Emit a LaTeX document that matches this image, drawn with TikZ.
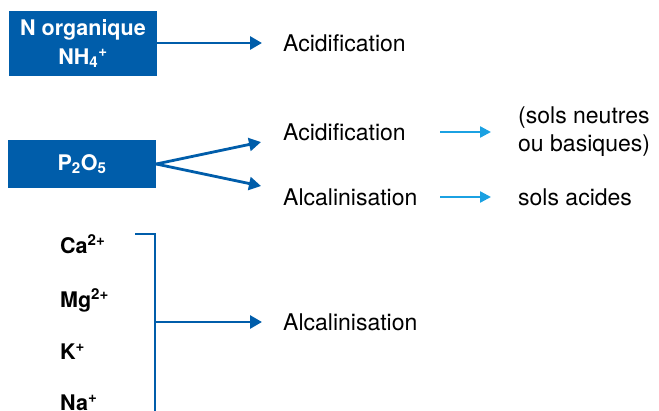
\documentclass[tikz,border=0pt]{standalone}
\usepackage{fontspec}
\setmainfont{TeX Gyre Heros}
\usetikzlibrary{arrows.meta,positioning}

\definecolor{bleufonce}{HTML}{005DAA}
\definecolor{bleuclair}{HTML}{1BA1E2}

\newcommand\grand{\fontsize{23}{28}\selectfont}
\newcommand\gras{\fontsize{21.5}{29}\selectfont\bfseries}

\tikzset{
  boite/.style={fill=bleufonce, text=white, font=\gras, minimum width=148pt, align=center, inner sep=0pt},
  fleche/.style={bleufonce, line width=2.8pt, -{Triangle[length=12pt,width=13pt]}},
  flecheclaire/.style={bleuclair, line width=2.4pt, -{Triangle[length=11pt,width=11pt]}},
  texte/.style={anchor=west, inner sep=0pt, font=\grand, text height=16pt, text depth=0pt},
  ion/.style={anchor=base west, inner sep=0pt, font=\gras}
}

\begin{document}
\begin{tikzpicture}[x=1pt,y=-1pt]
  \useasboundingbox (0,0) rectangle (659,410);

  % les boites
  \node[boite, minimum height=65pt] (norg) at (83,43.5) {N organique\\NH\textsubscript{4}\textsuperscript{+}};
  \node[boite, minimum height=48pt] (pdeux) at (82,164) {P\textsubscript{2}O\textsubscript{5}};

  % les textes
  \node[texte] (acid1) at (283,43) {Acidification};
  \node[texte] (acid2) at (283,132) {Acidification};
  \node[texte] (alca2) at (283,197) {Alcalinisation};
  \node[texte] (alca3) at (283,322) {Alcalinisation};
  \node[anchor=west, inner sep=0pt, align=left, font=\grand] (neutres) at (518,132) {(sols neutres\\ou basiques)};
  \node[texte] (acides) at (518,197) {sols acides};

  % les ions
  \node[ion] (ca) at (60,253) {Ca\textsuperscript{2+}};
  \node[ion] (mg) at (60,307) {Mg\textsuperscript{2+}};
  \node[ion] (k) at (60,359) {K\textsuperscript{+}};
  \node[ion] (na) at (60,410) {Na\textsuperscript{+}};

  % bouts libres des fleches
  \coordinate (fin1) at (262,43);
  \coordinate (fin2) at (261,142);
  \coordinate (fin3) at (261,186);
  \coordinate (fin4) at (262,322);
  \coordinate (dep5) at (440,132);
  \coordinate (fin5) at (491,132);
  \coordinate (dep6) at (440,197);
  \coordinate (fin6) at (491,197);
  \coordinate (haut) at (135,234);
  \coordinate (bas) at (155,414);
  \coordinate (milieu) at (155,322);

  \draw[fleche] (norg.east |- fin1) -- (fin1);
  \draw[fleche] (pdeux.east) -- (fin2);
  \draw[fleche] (pdeux.east) -- (fin3);
  \draw[bleufonce, line width=2.8pt] (haut) -| (bas); % accolade
  \draw[fleche] (milieu) -- (fin4);
  \draw[flecheclaire] (dep5) -- (fin5);
  \draw[flecheclaire] (dep6) -- (fin6);
\end{tikzpicture}
\end{document}
